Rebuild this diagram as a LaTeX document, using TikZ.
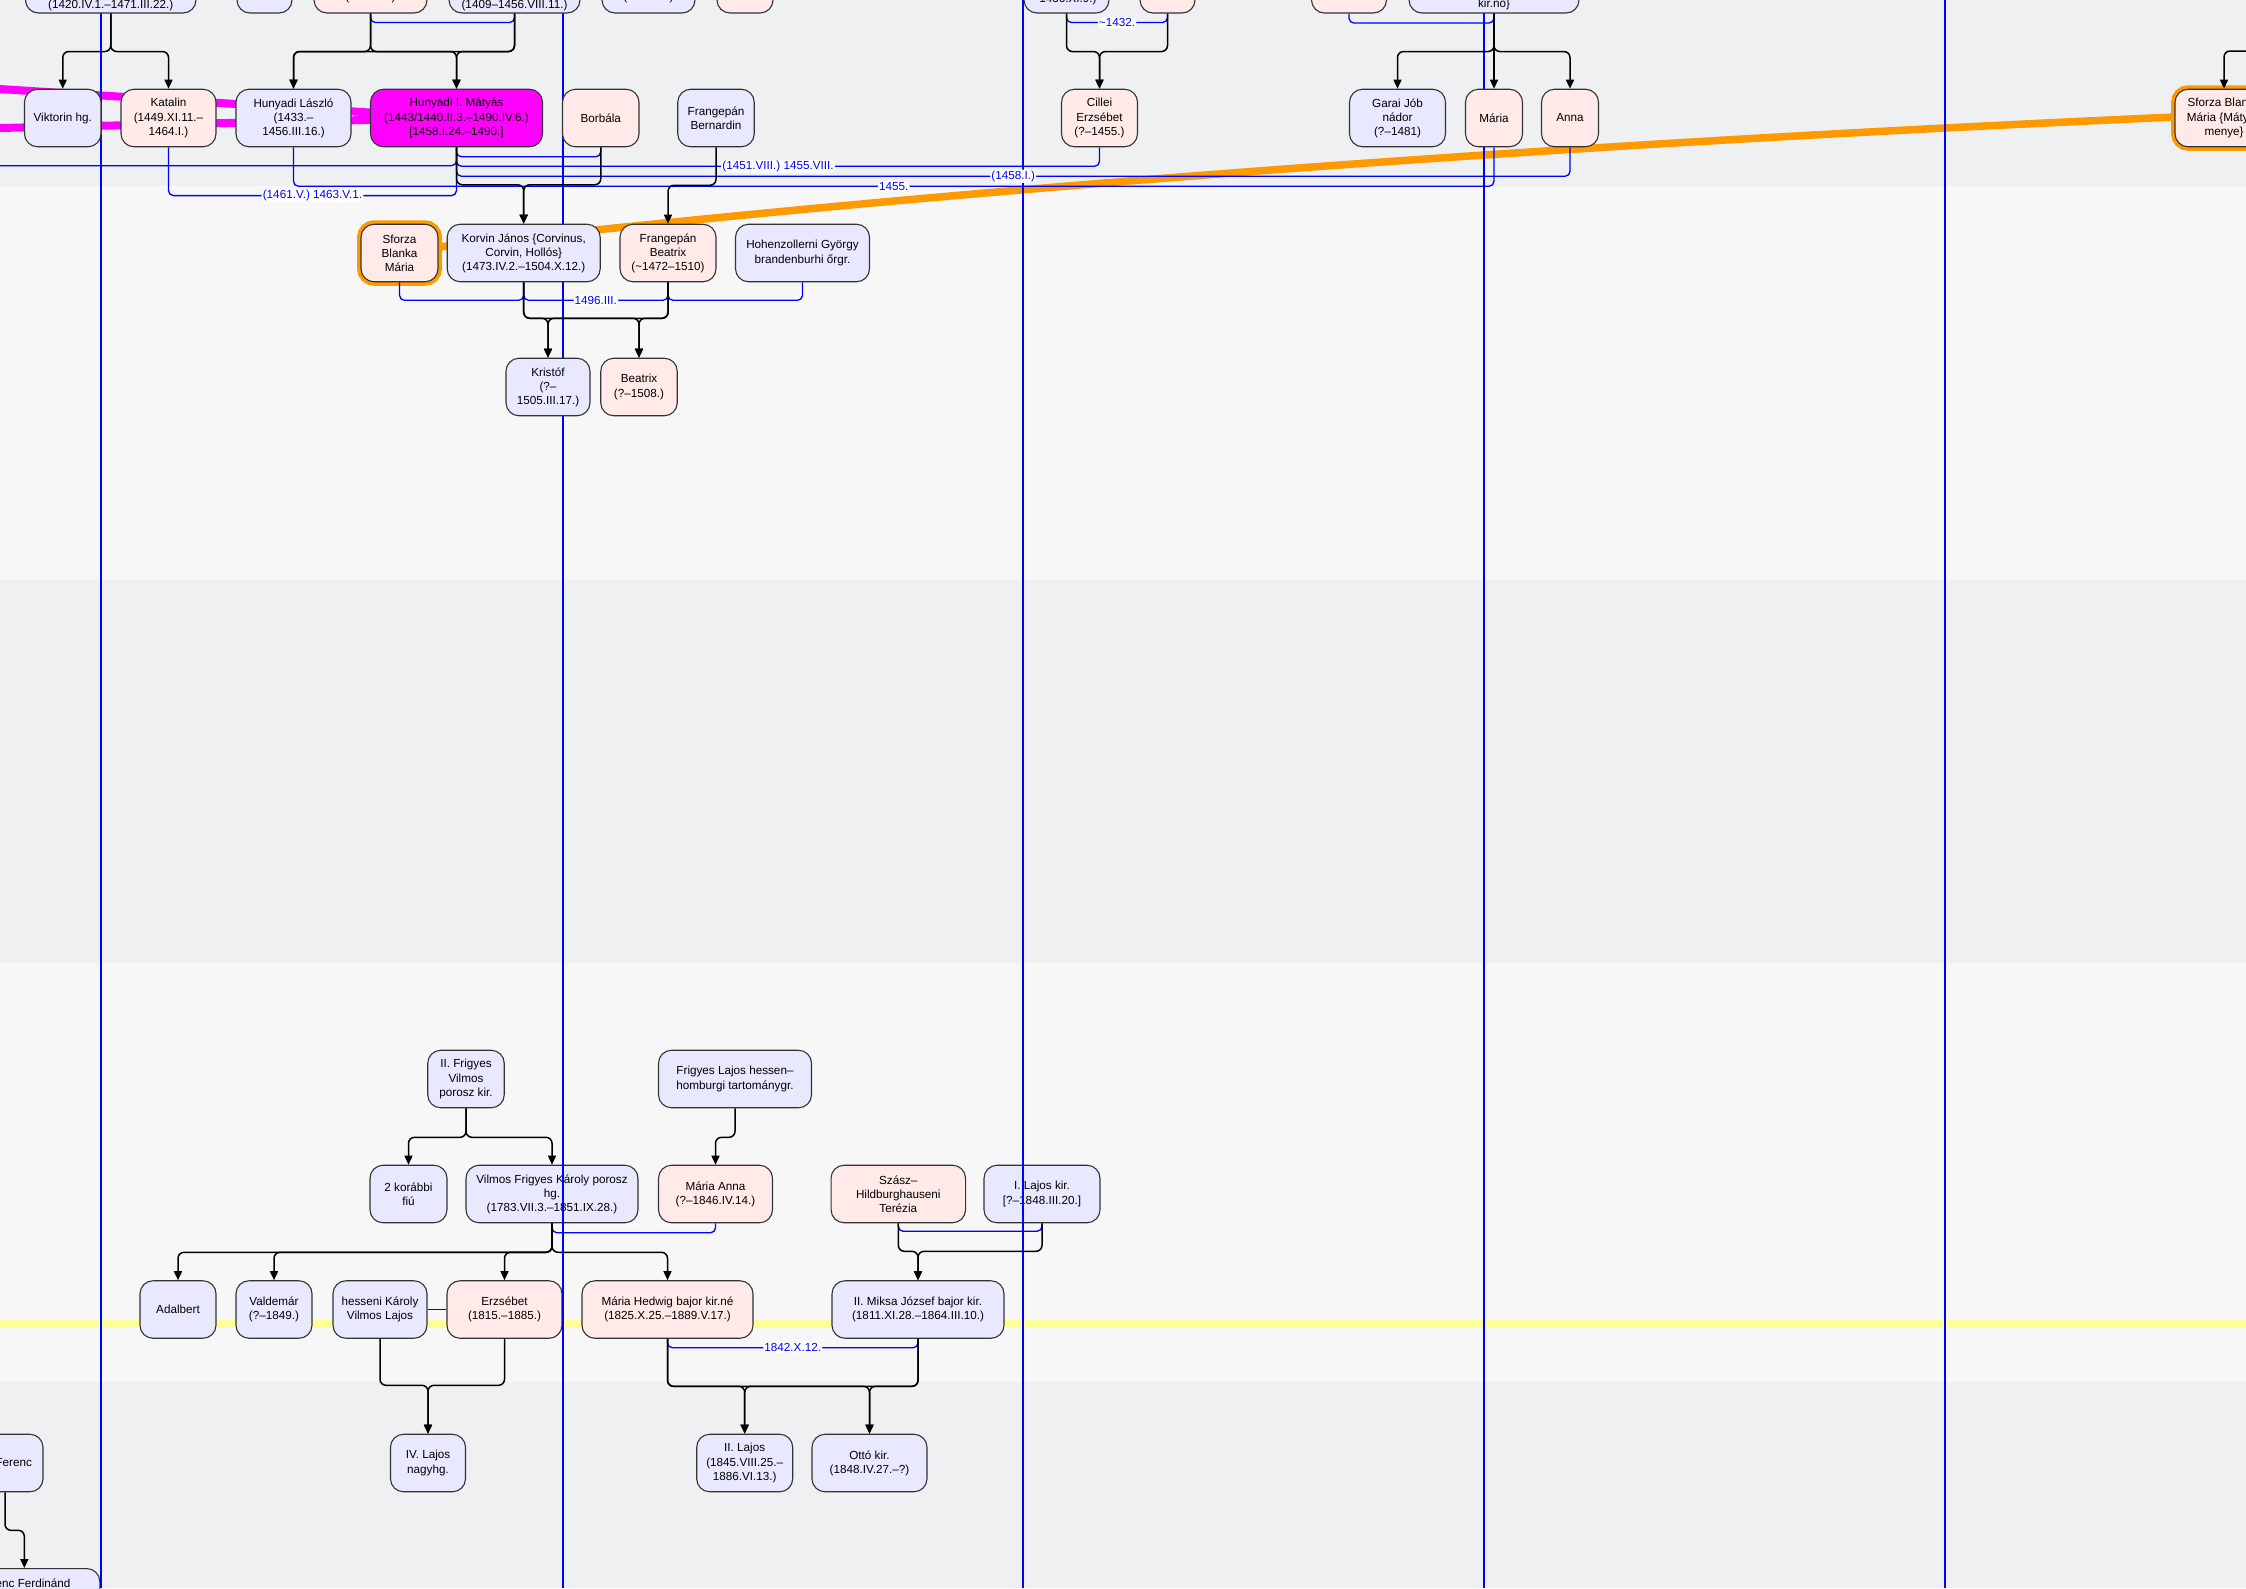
\documentclass[tikz,border=0pt]{standalone}
\usepackage{fontspec}
\setmainfont{Liberation Sans}
\usetikzlibrary{arrows.meta, positioning, backgrounds, calc}
\usepackage{xcolor}
\definecolor{boyBlue}{HTML}{E8E8FF}
\definecolor{girlPink}{HTML}{FFE9E9}
\definecolor{hlOrange}{HTML}{FF9900}
\definecolor{hlMagenta}{HTML}{FF00FF}
\definecolor{hlYellow}{HTML}{FFFF99}
\definecolor{bandDark}{HTML}{EFF0F2}
\definecolor{bandLight}{HTML}{F7F7F7}
\definecolor{wedBlue}{HTML}{0000FF}
\pgfdeclarelayer{glow}
\pgfsetlayers{background,glow,main}
\tikzset{
    font=\fontsize{11.7}{14.1}\selectfont,
    >={Triangle[length=9pt,width=8pt]},
    % People
    pers/.style={rectangle, draw=black!80, line width=1.1pt, rounded corners=13pt,
                 minimum height=57.5pt, inner sep=2pt, align=center},
    persBlue/.style={pers, fill=boyBlue},
    persPink/.style={pers, fill=girlPink},
    persKing/.style={pers, fill=hlMagenta},
    sforza/.style={persPink, preaction={draw=hlOrange, line width=8pt}},
    cutTxt/.style={inner sep=0pt},
    % Lines & labels
    desc/.style={->, line width=1.5pt, rounded corners=6pt},
    wed/.style={draw=wedBlue, line width=1.3pt, rounded corners=5pt},
    wlbl/.style={fill=white, text=wedBlue, inner sep=1.2pt},
    grid/.style={draw=wedBlue, line width=1.2pt},
    glowOrange/.style={draw=hlOrange, line width=7.5pt},
    glowMagenta/.style={draw=hlMagenta, line width=8pt},
    glowYellow/.style={draw=hlYellow, line width=8pt}
}
\begin{document}
\begin{tikzpicture}[x=1pt, y=-1pt]
\useasboundingbox (0,0) rectangle (2246,1588);

\begin{pgfonlayer}{background}
\fill[bandDark] (0,0) rectangle (2246,186);
\fill[bandLight] (0,186) rectangle (2246,580);
\fill[bandDark] (0,580) rectangle (2246,963);
\fill[bandLight] (0,963) rectangle (2246,1382);
\fill[bandDark] (0,1382) rectangle (2246,1588);
\end{pgfonlayer}

% 19th century
\node[persBlue, minimum width=76.5pt] (frigyesV) at (466,1079) {II. Frigyes\\Vilmos\\porosz kir.};
\node[persBlue, minimum width=153pt] (frigyesL) at (735,1079) {Frigyes Lajos hessen–\\homburgi tartománygr.};
\node[persBlue, minimum width=77pt] (korabbi) at (408.5,1194) {2 korábbi\\fiú};
\node[persBlue, minimum width=172pt] (vilmosFK) at (552,1194) {Vilmos Frigyes Károly porosz\\hg.\\(1783.VII.3.–1851.IX.28.)};
\node[persPink, minimum width=114pt] (mariaAnna) at (715.5,1194) {Mária Anna\\(?–1846.IV.14.)};
\node[persPink, minimum width=134.5pt] (terezia) at (898.3,1194) {Szász–\\Hildburghauseni\\Terézia};
\node[persBlue, minimum width=116pt] (lajosI) at (1042,1194) {I. Lajos kir.\\{}[?–1848.III.20.]};
\node[persBlue, minimum width=76pt] (adalbert) at (178,1309.5) {Adalbert};
\node[persBlue, minimum width=76pt] (valdemar) at (274,1309.5) {Valdemár\\(?–1849.)};
\node[persBlue, minimum width=94pt] (hesseni) at (380,1309.5) {hesseni Károly\\Vilmos Lajos};
\node[persPink, minimum width=115pt] (erzsebet) at (504.5,1309.5) {Erzsébet\\(1815.–1885.)};
\node[persPink, minimum width=171pt] (mariaHedwig) at (667.5,1309.5) {Mária Hedwig bajor kir.né\\(1825.X.25.–1889.V.17.)};
\node[persBlue, minimum width=172pt] (miksa) at (918,1309.5) {II. Miksa József bajor kir.\\(1811.XI.28.–1864.III.10.)};
\node[persBlue, minimum width=75pt] (lajosIV) at (428,1463) {IV. Lajos\\nagyhg.};
\node[persBlue, minimum width=96pt] (lajosII) at (744.7,1463) {II. Lajos\\(1845.VIII.25.–\\1886.VI.13.)};
\node[persBlue, minimum width=115pt] (otto) at (869.5,1463) {Ottó kir.\\(1848.IV.27.–?)};
\node[persBlue, minimum width=76pt, text width=54pt, align=right] (ferenc) at (5,1463) {Ferenc};
\node[persBlue, minimum width=151pt, anchor=north] (ferencF) at (24.3,1568) {Ferenc Ferdinánd\\\mbox{}\\\mbox{}};

\draw[desc] (frigyesV.south) -- ++(0,29) -| (korabbi.north);
\draw[desc] (frigyesV.south) -- ++(0,29) -| (vilmosFK.north);
\draw[desc] (frigyesL.south) -- ++(0,29) -| (mariaAnna.north);
\draw[wed] (vilmosFK.south) -- ++(0,9.5) -| (mariaAnna.south);
\draw[desc] (vilmosFK.south) -- ++(0,29) -| (adalbert.north);
\draw[desc] (vilmosFK.south) -- ++(0,29) -| (valdemar.north);
\draw[desc] (vilmosFK.south) -- ++(0,29) -| (erzsebet.north);
\draw[desc] (vilmosFK.south) -- ++(0,29) -| (mariaHedwig.north);
\draw[wed] (terezia.south) -- ++(0,8) -| (lajosI.south);
\draw[desc] (terezia.south) -- ++(0,28) -| (miksa.north);
\draw[desc] (lajosI.south) -- ++(0,28) -| (miksa.north);
\draw[wed] (hesseni.east) -- (erzsebet.west);
\draw[desc] (hesseni.south) -- ++(0,46.5) -| (lajosIV.north);
\draw[desc] (erzsebet.south) -- ++(0,46.5) -| (lajosIV.north);
\draw[wed] (mariaHedwig.south) -- ++(0,9) -| node[wlbl, pos=0.25] {1842.X.12.} (miksa.south);
\draw[desc] (mariaHedwig.south) -- ++(0,47.5) -| (lajosII.north);
\draw[desc] (mariaHedwig.south) -- ++(0,47.5) -| (otto.north);
\draw[desc] (miksa.south) -- ++(0,47.5) -| (lajosII.north);
\draw[desc] (miksa.south) -- ++(0,47.5) -| (otto.north);
\draw[desc] (ferenc.south) -- ++(0,38) -| (ferencF.north);

% generation grid
\draw[grid] (101,0) -- (101,1588);
\draw[grid] (563,0) -- (563,1588);
\draw[grid] (1023,0) -- (1023,1588);
\draw[grid] (1484,0) -- (1484,1588);
\draw[grid] (1945,0) -- (1945,1588);

% 15th century (top row cut by the page edge)
\node[persBlue, minimum width=170.5pt] (gpA) at (110.75,-15.75) {};
\node[persBlue, minimum width=55pt] (gpB) at (264.5,-15.75) {};
\node[persPink, minimum width=113pt] (gpC) at (370.5,-15.75) {};
\node[persBlue, minimum width=131pt] (gpD) at (514.5,-15.75) {};
\node[persBlue, minimum width=93pt] (gpE) at (648.5,-15.75) {};
\node[persPink, minimum width=56pt] (gpF) at (745,-15.75) {};
\node[persBlue, minimum width=85pt] (gpG) at (1066.5,-15.75) {};
\node[persPink, minimum width=55pt] (gpH) at (1167.5,-15.75) {};
\node[persPink, minimum width=75pt] (gpI) at (1349,-15.75) {};
\node[persBlue, minimum width=170pt] (gpJ) at (1494,-15.75) {};
\node[cutTxt] (gpAtxt) at (110.75,5) {(1420.IV.1.–1471.III.22.)};
\node[cutTxt] (gpCtxt) at (370.5,-2.5) {(?–1451.)};
\node[cutTxt] (gpDtxt) at (514.5,5) {(1409–1456.VIII.11.)};
\node[cutTxt] (gpEtxt) at (648.5,-2.5) {(?–1444.)};
\node[cutTxt] (gpGtxt) at (1068,-0.5) {1456.XI.9.)};
\node[cutTxt] (gpJtxt) at (1494,4.5) {kir.nő\}};

\node[persBlue, minimum width=76.5pt] (viktorin) at (62.75,118) {Viktorin hg.};
\node[persPink, minimum width=95pt] (katalin) at (168.5,118) {Katalin\\(1449.XI.11.–\\1464.I.)};
\node[persBlue, minimum width=115pt] (laszlo) at (293.5,118) {Hunyadi László\\(1433.–\\1456.III.16.)};
\node[persKing, minimum width=172pt] (matyas) at (456.5,118) {Hunyadi I. Mátyás\\(1443/1440.II.3.–1490.IV.6.)\\{}[1458.I.24.–1490.]};
\node[persPink, minimum width=76.5pt] (borbala) at (600.75,118) {Borbála};
\node[persBlue, minimum width=76.5pt] (bernardin) at (716,118) {Frangepán\\Bernardin};
\node[persPink, minimum width=76pt] (cillei) at (1099.5,118) {Cillei\\Erzsébet\\(?–1455.)};
\node[persBlue, minimum width=96pt] (garai) at (1397.5,118) {Garai Jób\\nádor\\(?–1481)};
\node[persPink, minimum width=57pt] (maria) at (1494,118) {Mária};
\node[persPink, minimum width=57pt] (anna) at (1570,118) {Anna};
\node[sforza, minimum width=98pt] (blankaR) at (2224,118) {Sforza Blanka\\Mária \{Mátyás\\menye\}};

\node[sforza, minimum width=77pt] (blanka) at (399.5,253) {Sforza\\Blanka\\Mária};
\node[persBlue, minimum width=153pt] (korvin) at (523.7,253) {Korvin János \{Corvinus,\\Corvin, Hollós\}\\(1473.IV.2.–1504.X.12.)};
\node[persPink, minimum width=96pt] (beatrix) at (668,253) {Frangepán\\Beatrix\\(\textasciitilde1472–1510)};
\node[persBlue, minimum width=134pt] (hohenz) at (802.5,253) {Hohenzollerni György\\brandenburhi őrgr.};
\node[persBlue, minimum width=84pt] (kristof) at (548,387) {Kristóf\\(?–\\1505.III.17.)};
\node[persPink, minimum width=76.5pt] (beatrixJr) at (639,387) {Beatrix\\(?–1508.)};

\draw[desc] (gpA.south) -- ++(0,38) -| (viktorin.north);
\draw[desc] (gpA.south) -- ++(0,38) -| (katalin.north);
\draw[wed] (gpC.south) -- ++(0,9) -| (gpD.south);
\draw[desc] (gpC.south) -- ++(0,38) -| (laszlo.north);
\draw[desc] (gpC.south) -- ++(0,38) -| (matyas.north);
\draw[desc] (gpD.south) -- ++(0,38) -| (laszlo.north);
\draw[desc] (gpD.south) -- ++(0,38) -| (matyas.north);
\draw[wed] (gpG.south) -- ++(0,9) -| node[wlbl, pos=0.25] {\textasciitilde1432.} (gpH.south);
\draw[desc] (gpG.south) -- ++(0,38) -| (cillei.north);
\draw[desc] (gpH.south) -- ++(0,38) -| (cillei.north);
\draw[wed] (gpI.south) -- ++(0,9.5) -| (gpJ.south);
\draw[desc] (gpJ.south) -- ++(0,38) -| (garai.north);
\draw[desc] (gpJ.south) -- (maria.north);
\draw[desc] (gpJ.south) -- ++(0,38) -| (anna.north);
\coordinate (offR) at (2260,51);
\draw[desc] (offR) -| (blankaR.north);

\coordinate (offL) at (-5,165.7);
\draw[wed] (matyas.south) -- ++(0,9.5) -| (borbala.south);
\draw[wed] (matyas.south) |- (offL);
\draw[wed] (matyas.south) -- ++(0,19) -| node[wlbl, pos=0.25] {(1451.VIII.) 1455.VIII.} (cillei.south);
\draw[wed] (matyas.south) -- ++(0,29) -| node[wlbl, pos=0.25] {(1458.I.)} (anna.south);
\draw[wed] (laszlo.south) -- ++(0,39) -| node[wlbl, pos=0.25] {1455.} (maria.south);
\draw[wed] (katalin.south) -- ++(0,48.3) -| node[wlbl, pos=0.25] {(1461.V.) 1463.V.1.} (matyas.south);
\draw[desc] (matyas.south) -- ++(0,37.5) -| (korvin.north);
\draw[desc] (borbala.south) -- ++(0,37.5) -| (korvin.north);
\draw[desc] (bernardin.south) -- ++(0,38) -| (beatrix.north);

\draw[wed] (blanka.south) -- ++(0,18) -| (korvin.south);
\draw[wed] (korvin.south) -- ++(0,18) -| node[wlbl, pos=0.25] {1496.III.} (beatrix.south);
\draw[wed] (beatrix.south) -- ++(0,18) -| (hohenz.south);
\draw[desc] (korvin.south) -- ++(0,36) -| (kristof.north);
\draw[desc] (korvin.south) -- ++(0,36) -| (beatrixJr.north);
\draw[desc] (beatrix.south) -- ++(0,36) -| (kristof.north);
\draw[desc] (beatrix.south) -- ++(0,36) -| (beatrixJr.north);

% highlight lines
\begin{pgfonlayer}{glow}
\coordinate (ylwL) at (-5,1324);
\coordinate (ylwR) at (2251,1324);
\coordinate (magA) at (-10,88.4);
\coordinate (magB) at (-10,128.2);
\draw[glowYellow] (ylwL) -- (ylwR);
\draw[glowMagenta] (magA) -- (matyas.center);
\draw[glowMagenta] (magB) -- (matyas.center);
\draw[glowOrange] ([yshift=6pt]blanka.east) .. controls (1015,182.4) and (1594,143) .. ([yshift=1pt]blankaR.west);
\end{pgfonlayer}

\end{tikzpicture}
\end{document}
